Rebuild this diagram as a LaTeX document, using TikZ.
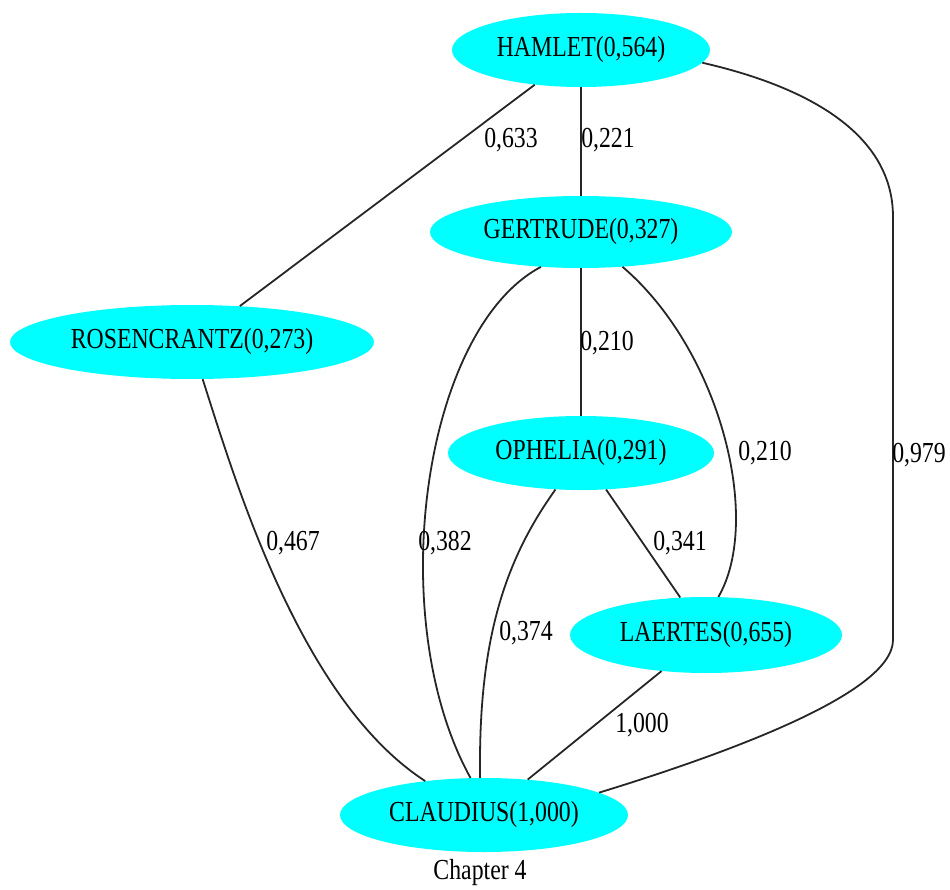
\documentclass[tikz,border=0pt]{standalone}
\usepackage{fontspec}
\setmainfont[FakeStretch=0.82]{Liberation Serif}
\usetikzlibrary{shapes.geometric}
\definecolor{nodecyan}{RGB}{0,255,255}
\begin{document}
\begin{tikzpicture}[x=1pt,y=-1pt,
  vert/.style={ellipse, fill=nodecyan, draw=none, inner sep=0pt, minimum height=74pt, font=\fontsize{29}{34}\selectfont},
  lbl/.style={inner sep=0pt, font=\fontsize{29}{34}\selectfont},
  edge/.style={line width=1.8pt, black!85}]
\useasboundingbox (0,0) rectangle (950,890);
% nodes
\node[vert, minimum width=258pt] (hamlet) at (581,50) {HAMLET(0,564)};
\node[vert, minimum width=302pt, minimum height=72pt] (gertrude) at (581,232) {GERTRUDE(0,327)};
\node[vert, minimum width=364pt] (rosen) at (192,342) {ROSENCRANTZ(0,273)};
\node[vert, minimum width=266pt] (ophelia) at (581,453) {OPHELIA(0,291)};
\node[vert, minimum width=272pt, minimum height=76pt] (laertes) at (706,635) {LAERTES(0,655)};
\node[vert, minimum width=288pt] (claudius) at (484,815) {CLAUDIUS(1,000)};
\node[lbl] (title) at (480,873) {Chapter 4};
% edges
\draw[edge] (hamlet) -- (gertrude);
\draw[edge] (hamlet) -- (rosen);
\draw[edge] (gertrude) -- (ophelia);
\draw[edge] (ophelia) -- (laertes);
\draw[edge] (laertes) -- (claudius);
\draw[edge] (hamlet.-6.2) .. controls (800,85) and (893,130) .. (893,217)
  -- (893,640) .. controls (893,695) and (715,757) .. (claudius.11.7);
\draw[edge] (rosen.-74.5) .. controls (235,480) and (300,700) .. (claudius.150);
\draw[edge] (gertrude.221.3) .. controls (422,330) and (383,620) .. (claudius.110.7);
\draw[edge] (ophelia.235.9) .. controls (505,560) and (478,640) .. (claudius.96);
\draw[edge] (gertrude.-40.6) .. controls (720,350) and (763,520) .. (laertes.72.5);
% edge labels
\node[lbl] (l633) at (511,140) {0,633};
\node[lbl] (l221) at (608,140) {0,221};
\node[lbl] (l210a) at (607,343) {0,210};
\node[lbl] (l210b) at (765,453) {0,210};
\node[lbl] (l979) at (919,455) {0,979};
\node[lbl] (l467) at (293,543) {0,467};
\node[lbl] (l382) at (445,543) {0,382};
\node[lbl] (l341) at (680,543) {0,341};
\node[lbl] (l374) at (526,633) {0,374};
\node[lbl] (l1000) at (642,725) {1,000};
\end{tikzpicture}
\end{document}
